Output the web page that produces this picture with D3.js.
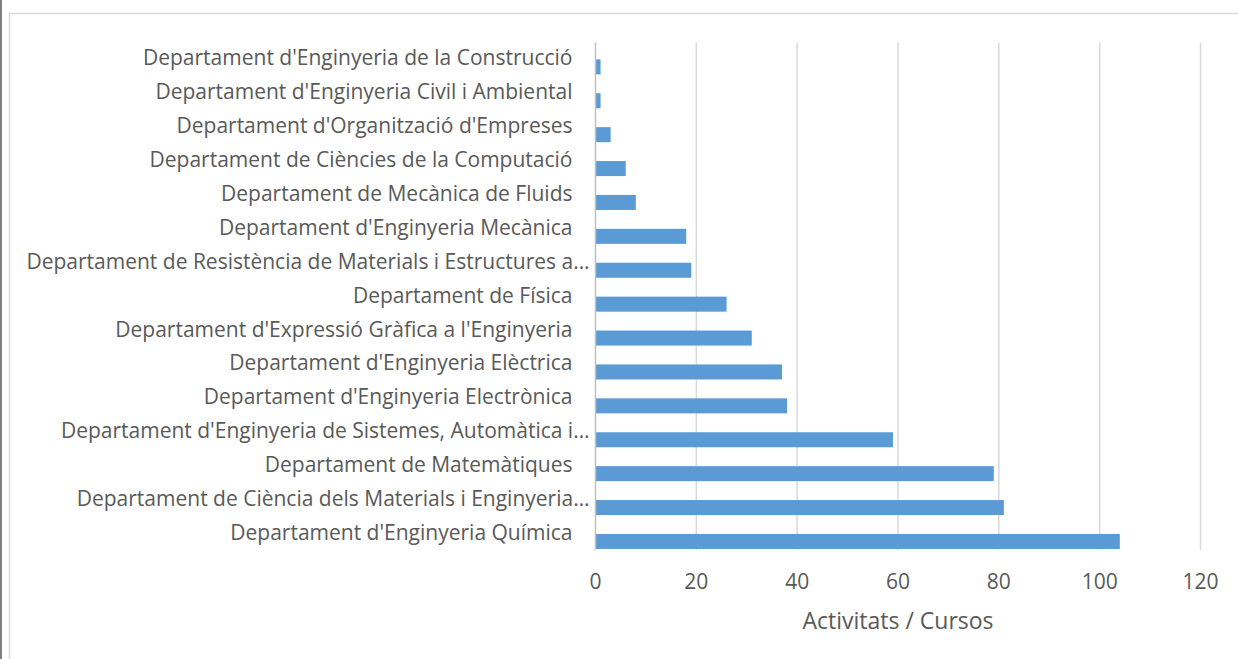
<!DOCTYPE html>
<html>
<head>
<meta charset="utf-8">
<script src="https://cdn.jsdelivr.net/npm/d3@7"></script>
<style>
  body { margin: 0; background: #fff; }
  text { font-family: "Open Sans", sans-serif; fill: #595959; }
</style>
</head>
<body>
<svg id="bar-chart"></svg>
<script>
// Departments (top to bottom) and number of activities / courses
const departments = [
  "Departament d'Enginyeria de la Construcció",
  "Departament d'Enginyeria Civil i Ambiental",
  "Departament d'Organització d'Empreses",
  "Departament de Ciències de la Computació",
  "Departament de Mecànica de Fluids",
  "Departament d'Enginyeria Mecànica",
  "Departament de Resistència de Materials i Estructures a…",
  "Departament de Física",
  "Departament d'Expressió Gràfica a l'Enginyeria",
  "Departament d'Enginyeria Elèctrica",
  "Departament d'Enginyeria Electrònica",
  "Departament d'Enginyeria de Sistemes, Automàtica i…",
  "Departament de Matemàtiques",
  "Departament de Ciència dels Materials i Enginyeria…",
  "Departament d'Enginyeria Química"
];
const activitats = [1, 1, 3, 6, 8, 18, 19, 26, 31, 37, 38, 59, 79, 81, 104];
const xTicks = [0, 20, 40, 60, 80, 100, 120];
const xTitle = "Activitats / Cursos";

// Chart dimensions
const width = 1238;
const height = 659;
const plotTop = 42.5;
const plotBottom = 550;

const data = departments.map((d, i) => ({ name: d, value: activitats[i] }));

const svg = d3.select("#bar-chart")
  .attr("width", width)
  .attr("height", height);

// Outer frame (dark edge on the left, light chart border)
svg.append("rect")
  .attr("x", 0).attr("y", 0)
  .attr("width", 2).attr("height", height)
  .style("fill", "#7f7f7f");

svg.append("rect")
  .attr("x", 9.5).attr("y", 13.5)
  .attr("width", width).attr("height", height)
  .style("fill", "none")
  .style("stroke", "#d9d9d9")
  .style("stroke-width", 1.5);

// Scales
const x = d3.scaleLinear()
  .domain([0, 120])
  .range([595.5, 1200.5]);

const y = d3.scaleBand()
  .domain(departments)
  .range([49.9, 558.4])
  .paddingInner(0.557)
  .paddingOuter(0.2785);

// Vertical gridlines
svg.append("g")
  .selectAll(".grid")
  .data(xTicks.filter(d => d > 0))
  .enter()
  .append("line")
  .attr("class", "grid")
  .attr("x1", d => x(d))
  .attr("x2", d => x(d))
  .attr("y1", plotTop)
  .attr("y2", plotBottom)
  .style("stroke", "#d9d9d9")
  .style("stroke-width", 1.5);

// Bars
svg.append("g")
  .selectAll(".bar")
  .data(data)
  .enter()
  .append("rect")
  .attr("class", "bar")
  .attr("x", x(0))
  .attr("y", d => y(d.name))
  .attr("width", d => x(d.value) - x(0))
  .attr("height", y.bandwidth())
  .style("fill", "#5b9bd5");

// Category axis line
svg.append("line")
  .attr("x1", x(0)).attr("x2", x(0))
  .attr("y1", plotTop).attr("y2", plotBottom)
  .style("stroke", "#bfbfbf")
  .style("stroke-width", 1.5);

// Category labels (truncated ones sit closer to the axis, as in Excel)
svg.append("g")
  .selectAll(".cat-label")
  .data(data)
  .enter()
  .append("text")
  .attr("class", "cat-label")
  .attr("x", d => d.name.endsWith("…") ? x(0) - 6 : x(0) - 23)
  .attr("y", d => y(d.name) + y.bandwidth() / 2 - 1.5)
  .style("font-size", "21px")
  .style("text-anchor", "end")
  .text(d => d.name);

// Value axis tick labels
svg.append("g")
  .selectAll(".tick-label")
  .data(xTicks)
  .enter()
  .append("text")
  .attr("class", "tick-label")
  .attr("x", d => x(d))
  .attr("y", 589)
  .style("font-size", "21px")
  .style("text-anchor", "middle")
  .text(d => d);

// Axis title
svg.append("text")
  .attr("x", (x(0) + x(120)) / 2)
  .attr("y", 628.5)
  .style("font-size", "23px")
  .style("text-anchor", "middle")
  .text(xTitle);
</script>
</body>
</html>
